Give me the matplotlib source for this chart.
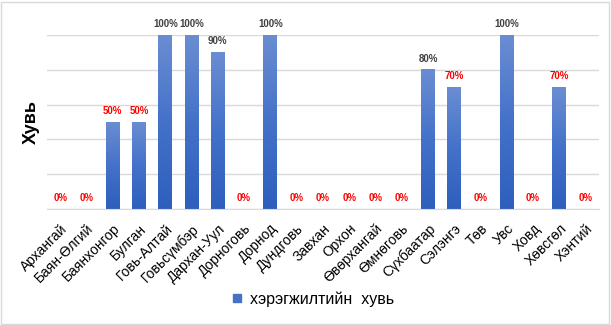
import numpy as np
import matplotlib
matplotlib.use("Agg")
import matplotlib.pyplot as plt
from matplotlib.colors import LinearSegmentedColormap
from matplotlib.lines import Line2D
from matplotlib.patches import Rectangle

plt.rcParams['font.family'] = ['Liberation Sans', 'DejaVu Sans']

categories = ["Архангай", "Баян-Өлгий", "Баянхонгор", "Булган", "Говь-Алтай",
              "Говьсүмбэр", "Дархан-Уул", "Дорноговь", "Дорнод", "Дундговь",
              "Завхан", "Орхон", "Өвөрхангай", "Өмнөговь", "Сүхбаатар",
              "Сэлэнгэ", "Төв", "Увс", "Ховд", "Хөвсгөл", "Хэнтий"]
values = [0, 0, 50, 50, 100, 100, 90, 0, 100, 0, 0, 0, 0, 0, 80, 70, 0, 100, 0, 70, 0]
series_name = "хэрэгжилтийн  хувь"
y_label = "Хувь"

fig = plt.figure(figsize=(6.11, 3.25), dpi=100)
ax = fig.add_axes([0.077, 0.357, 0.903, 0.535])

x = np.arange(len(categories))
vals = np.array(values) / 100.0
bars = ax.bar(x, vals, width=0.53, color='none', edgecolor='none', zorder=2)

cmap = LinearSegmentedColormap.from_list('g', ['#2e5fbd', '#4472c9', '#6a8dd2'])
grad = np.linspace(0, 1, 100).reshape(-1, 1)
for b in bars:
    h = b.get_height()
    if h <= 0:
        continue
    x0 = b.get_x()
    ax.imshow(grad, extent=[x0, x0 + b.get_width(), 0, h], origin='lower',
              aspect='auto', cmap=cmap, zorder=2, interpolation='bilinear')

for xi, v in zip(x, values):
    col = '#ff0000' if v in (0, 50, 70) else '#404040'
    ax.text(xi, v / 100.0 + 0.035, f"{v}%", ha='center', va='bottom',
            fontsize=7, fontweight='bold', color=col, zorder=3)

ax.set_xlim(-0.5, len(categories) - 0.5)
ax.set_ylim(0, 1)
ax.set_yticks(np.arange(0, 1.01, 0.2))
ax.set_yticklabels([])
ax.tick_params(axis='y', length=0)
ax.tick_params(axis='x', length=0, pad=9)
ax.grid(axis='y', color='#d9d9d9', linewidth=1, zorder=0)
ax.set_axisbelow(True)
for s in ['top', 'right', 'left']:
    ax.spines[s].set_visible(False)
ax.spines['bottom'].set_color('#d9d9d9')
ax.set_xticks(x)
ax.set_xticklabels(categories, rotation=45, ha='right', rotation_mode='anchor',
                   fontsize=10, color='#000000')
ax.set_ylabel(y_label, fontsize=13, fontweight='bold', labelpad=2)

handle = Line2D([], [], marker='s', linestyle='none', markersize=6,
                markerfacecolor='#4472c4', markeredgecolor='#4472c4')
fig.legend([handle], [series_name], loc='center', bbox_to_anchor=(0.51, 0.08),
           frameon=False, fontsize=11.5, handletextpad=0.3, handlelength=1)

fig.patches.append(Rectangle((0.002, 0.004), 0.994, 0.99, transform=fig.transFigure,
                             fill=False, edgecolor='#d9d9d9', linewidth=1))

fig.savefig("out.png", dpi=100)
